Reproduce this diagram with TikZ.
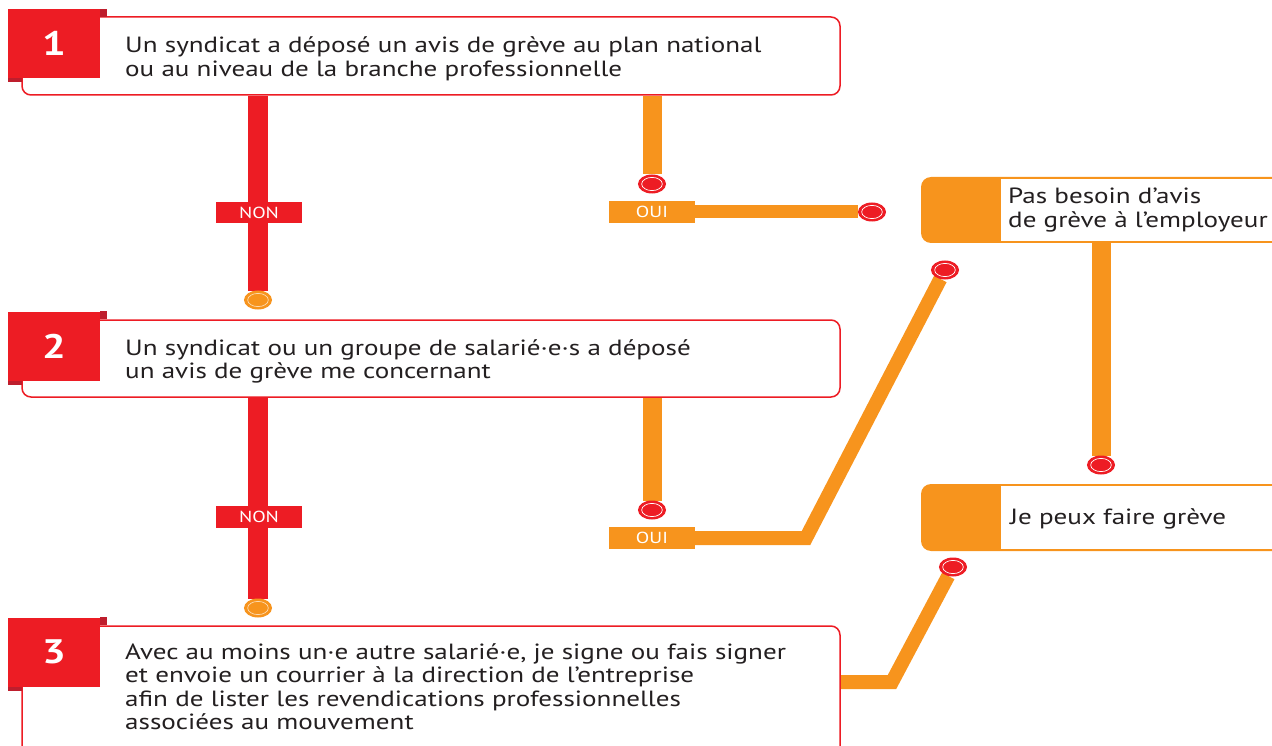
\documentclass[tikz,border=0pt]{standalone}
\usepackage{fontspec}
\setmainfont{PT Sans}[FakeStretch=1.23]
\usetikzlibrary{shapes.geometric}
\pgfdeclarelayer{background}
\pgfsetlayers{background,main}
\definecolor{synred}{HTML}{ED1C24}
\definecolor{synorange}{HTML}{F7941D}
\definecolor{foldred}{HTML}{BE1E2D}
\definecolor{txtgray}{HTML}{231F20}
\tikzset{
  stepframe/.style={draw=synred, line width=1.5pt, fill=white, rounded corners=9pt, minimum width=818pt, inner sep=0pt},
  stepnum/.style={fill=synred, text=white, font=\bfseries\fontsize{34}{34}\selectfont, minimum width=92pt, minimum height=69pt, inner sep=0pt},
  steptext/.style={anchor=base west, align=left, inner sep=0pt, text=txtgray, font=\fontsize{22}{23.5}\selectfont},
  resultframe/.style={fill=synorange, rounded corners=10pt, minimum width=379pt, minimum height=66pt, inner sep=0pt},
  resultpanel/.style={fill=white, minimum width=299pt, minimum height=62pt, inner sep=0pt},
  answer/.style={minimum width=86pt, minimum height=21.5pt, inner sep=0pt, text=white, font=\fontsize{16}{16}\selectfont},
  nontag/.style={answer, fill=synred},
  ouitag/.style={answer, fill=synorange},
  dotbase/.style={ellipse, minimum width=27pt, minimum height=18pt, inner sep=0pt, line width=1pt},
  reddot/.style={dotbase, draw=synred, fill=synred, path picture={\draw[white, line width=0.7pt] (path picture bounding box.center) ellipse [x radius=10.3pt, y radius=6.6pt];}},
  orangedot/.style={dotbase, draw=synorange, fill=synorange, path picture={\draw[synorange!35!white, line width=0.7pt] (path picture bounding box.center) ellipse [x radius=10.3pt, y radius=6.6pt];}},
  redline/.style={draw=synred, line width=20pt},
  oranline/.style={draw=synorange, line width=19pt},
  flatline/.style={draw=synorange, line width=13pt},
  slantline/.style={draw=synorange, line width=14pt, line join=miter},
}
\begin{document}
\begin{tikzpicture}[x=1pt, y=-1pt]
  \useasboundingbox (0,0) rectangle (1272,746);

  % draw the three steps
  \node[stepframe, minimum height=78pt] (frame1) at (431,56) {};
  \node[stepframe, minimum height=77pt] (frame2) at (431,358.5) {};
  \node[stepframe, minimum height=160pt] (frame3) at (431,706) {};
  \node[stepnum] (num1) at (54,43.5) {1};
  \node[stepnum] (num2) at (54,346) {2};
  \node[stepnum] (num3) at (54,652) {3};
  \foreach \n in {1,2,3} {
    \fill[foldred] (num\n.north east) rectangle ++(7,8);
    \fill[foldred] (num\n.south west) rectangle ++(14,4);
  }
  % (base is the last line)
  \node[steptext] (text1) at (125,76.5) {Un syndicat a déposé un avis de grève au plan national\\ou au niveau de la branche professionnelle};
  \node[steptext] (text2) at (125,378.5) {Un syndicat ou un groupe de salarié·e·s a déposé\\un avis de grève me concernant};
  \node[steptext] (text3) at (125,729.5) {Avec au moins un·e autre salarié·e, je signe ou fais signer\\et envoie un courrier à la direction de l’entreprise\\afin de lister les revendications professionnelles\\associées au mouvement};

  % draw the two results on the right
  \node[resultframe] (frame4) at (1110.5,210) {};
  \node[resultpanel] (panel4) at (1150.5,210) {};
  \node[steptext] (text4) at (1008,227.5) {Pas besoin d’avis\\de grève à l’employeur};
  \node[resultframe, minimum height=67pt] (frame5) at (1110.5,517.5) {};
  \node[resultpanel, minimum height=63pt] (panel5) at (1150.5,517.5) {};
  \node[steptext] (text5) at (1010,524) {Je peux faire grève};

  % draw the answers
  \node[nontag] (non1) at (259,212.5) {NON};
  \node[nontag] (non2) at (259,517) {NON};
  \node[ouitag] (oui1) at (652,212) {OUI};
  \node[ouitag] (oui2) at (652,538) {OUI};

  % draw the end points of the branches
  \node[orangedot] (nondot1) at (258,300) {};
  \node[orangedot] (nondot2) at (258,608) {};
  \node[reddot] (ouidot1) at (652,184) {};
  \node[reddot] (ouidot2) at (652,510) {};
  \node[reddot] (endoui1) at (872,212) {};
  \node[reddot] (endoui2) at (945,270) {};
  \node[reddot] (endbesoin) at (1101,465) {};
  \node[reddot] (endstep3) at (953,567) {};
  \coordinate (bend2) at (806,538);
  \coordinate (bend3) at (892,682);

  % draw the branches behind everything
  \begin{pgfonlayer}{background}
    \draw[redline] (frame1.south -| nondot1) -- (nondot1);
    \draw[redline] (frame2.south -| nondot2) -- (nondot2);
    \draw[oranline] (frame1.south -| ouidot1) -- (ouidot1);
    \draw[oranline] (frame2.south -| ouidot2) -- (ouidot2);
    \draw[flatline] (oui1.east) -- (endoui1);
    \draw[slantline] (oui2.center) -- (bend2) -- (endoui2);
    \draw[slantline] (frame3.east |- bend3) -- (bend3) -- (endstep3);
    \draw[oranline] (frame4.south -| endbesoin) -- (endbesoin);
  \end{pgfonlayer}
\end{tikzpicture}
\end{document}
